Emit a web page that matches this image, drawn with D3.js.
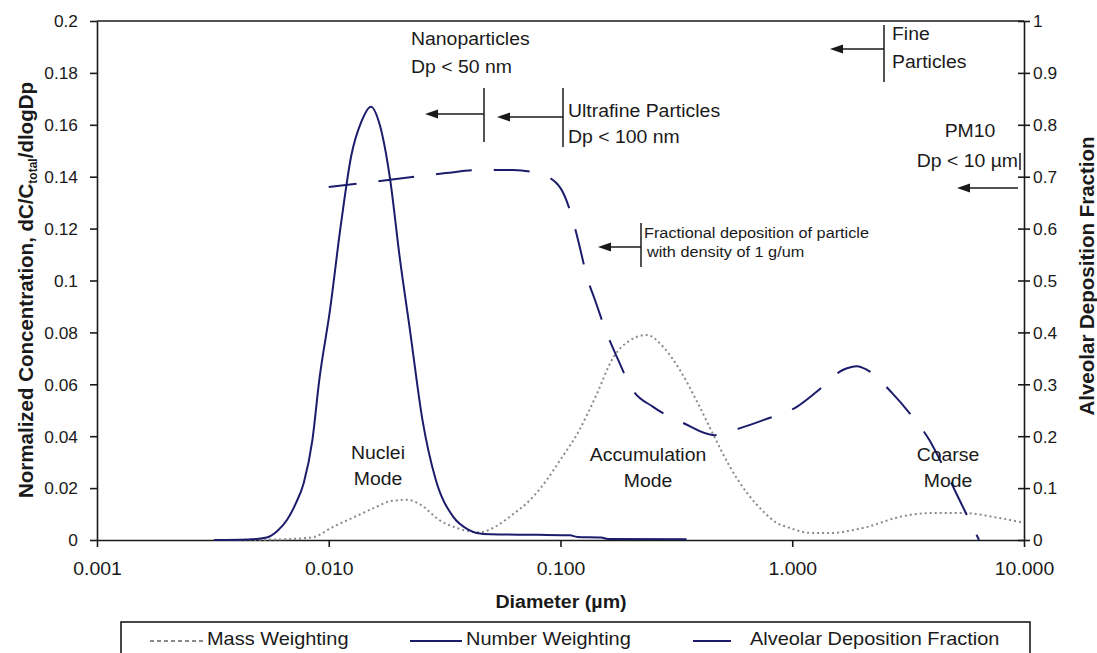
<!DOCTYPE html>
<html>
<head>
<meta charset="utf-8">
<script src="https://cdn.jsdelivr.net/npm/d3@7"></script>
<style>
    body { margin: 0; background: #fff; }
    svg { display: block; font-family: "Liberation Sans", Arial, sans-serif; }
</style>
</head>
<body>
<script>
//Number weighting, diameter in um and normalized concentration
var numberDiam = [0.0032, 0.0045, 0.0054, 0.006, 0.0066, 0.0072, 0.0078, 0.0085, 0.0091, 0.0101, 0.0113, 0.0125, 0.0138, 0.0152, 0.0166, 0.0184, 0.0203, 0.0224, 0.0254, 0.029, 0.0344, 0.04, 0.0435, 0.05, 0.08, 0.11, 0.118, 0.15, 0.16, 0.35];
var numberConc = [0, 0.0002, 0.001, 0.0035, 0.0077, 0.014, 0.022, 0.0385, 0.0616, 0.088, 0.122, 0.148, 0.161, 0.167, 0.16, 0.139, 0.108, 0.081, 0.046, 0.023, 0.009, 0.004, 0.0027, 0.0022, 0.002, 0.0018, 0.0012, 0.001, 0.0004, 0.0003];

//Mass weighting
var massDiam = [0.0032, 0.006, 0.0085, 0.0104, 0.013, 0.0158, 0.0185, 0.0218, 0.025, 0.03, 0.036, 0.045, 0.052, 0.0625, 0.075, 0.087, 0.1, 0.12, 0.143, 0.168, 0.2, 0.236, 0.28, 0.33, 0.39, 0.46, 0.54, 0.64, 0.75, 0.86, 0.95, 1.22, 1.5, 1.8, 2.1, 2.9, 4.0, 5.4, 7.8, 10];
var massConc = [0, 0.0002, 0.001, 0.005, 0.009, 0.0125, 0.015, 0.0155, 0.0135, 0.0077, 0.0045, 0.003, 0.005, 0.01, 0.016, 0.023, 0.031, 0.042, 0.056, 0.07, 0.077, 0.079, 0.074, 0.065, 0.053, 0.04, 0.028, 0.018, 0.011, 0.0065, 0.005, 0.0027, 0.0027, 0.0037, 0.005, 0.0089, 0.0104, 0.0104, 0.0085, 0.0066];

//Alveolar deposition fraction (right axis)
var alveolarDiam = [0.01, 0.0184, 0.032, 0.045, 0.0625, 0.084, 0.1, 0.113, 0.121, 0.13, 0.141, 0.158, 0.175, 0.205, 0.25, 0.34, 0.46, 0.6, 0.75, 1.05, 1.27, 1.66, 1.9, 2.1, 2.7, 3.2, 3.9, 4.5, 5.1, 6.4];
var alveolarFrac = [0.68, 0.694, 0.707, 0.713, 0.713, 0.703, 0.678, 0.617, 0.565, 0.507, 0.462, 0.399, 0.353, 0.289, 0.257, 0.225, 0.202, 0.216, 0.231, 0.257, 0.285, 0.328, 0.335, 0.328, 0.283, 0.245, 0.193, 0.14, 0.09, 0];

//Ticks and labels
var xTicks = [0.001, 0.01, 0.1, 1, 10];
var xTickLabels = ["0.001", "0.010", "0.100", "1.000", "10.000"];
var leftTicks = [0, 0.02, 0.04, 0.06, 0.08, 0.1, 0.12, 0.14, 0.16, 0.18, 0.2];
var leftTickLabels = ["0", "0.02", "0.04", "0.06", "0.08", "0.1", "0.12", "0.14", "0.16", "0.18", "0.2"];
var rightTicks = [0, 0.1, 0.2, 0.3, 0.4, 0.5, 0.6, 0.7, 0.8, 0.9, 1];
var rightTickLabels = ["0", "0.1", "0.2", "0.3", "0.4", "0.5", "0.6", "0.7", "0.8", "0.9", "1"];
var legendLabels = ["Mass Weighting", "Number Weighting", "Alveolar Deposition Fraction"];

var width = 1097, height = 653;
var plot = { left: 97, right: 1024, top: 21, bottom: 540 };
var navy = "#1c1c6c", grey = "#8a8a8a", ink = "#1a1a1a";
var SX = 1.05; //text in the picture is slightly wide

var svg = d3.select("body").append("svg")
    .attr("width", width)
    .attr("height", height);

svg.append("rect").attr("width", width).attr("height", height).attr("fill", "#fff");

//Scales
var x = d3.scaleLog().domain([0.001, 10]).range([plot.left, plot.right]);
var yL = d3.scaleLinear().domain([0, 0.2]).range([plot.bottom, plot.top]);
var yR = d3.scaleLinear().domain([0, 1]).range([plot.bottom, plot.top]);

//Helper for horizontal text
function addText(g, tx, ty, str, size, anchor, bold) {
    return g.append("text")
        .attr("transform", "translate(" + tx + "," + ty + ") scale(" + SX + ",1)")
        .attr("text-anchor", anchor || "start")
        .attr("font-size", size)
        .attr("font-weight", bold ? "bold" : "normal")
        .attr("fill", ink)
        .text(str);
}

//Left axis
var gLeft = svg.append("g")
    .attr("transform", "translate(" + plot.left + ",0)")
    .call(d3.axisLeft(yL).tickValues(leftTicks).tickFormat((d, i) => leftTickLabels[i]).tickSize(7).tickSizeOuter(0));
gLeft.selectAll("text")
    .attr("x", null).attr("dy", null)
    .attr("transform", "translate(-19,5.8) scale(" + SX + ",1)")
    .attr("font-size", 16.5).attr("fill", ink);

//Bottom axis
var gBottom = svg.append("g")
    .attr("transform", "translate(0," + plot.bottom + ")")
    .call(d3.axisBottom(x).tickValues(xTicks).tickFormat((d, i) => xTickLabels[i]).tickSize(7).tickSizeOuter(0));
gBottom.selectAll("text")
    .attr("y", null).attr("dy", null)
    .attr("transform", "translate(0,35) scale(" + SX + ",1)")
    .attr("font-size", 18.5).attr("fill", ink);

//Right axis, ticks cross the axis line
var gRight = svg.append("g")
    .attr("transform", "translate(" + plot.right + ",0)")
    .call(d3.axisRight(yR).tickValues(rightTicks).tickFormat((d, i) => rightTickLabels[i]).tickSize(6).tickSizeOuter(0));
gRight.selectAll(".tick line").attr("x1", -6);
gRight.selectAll("text")
    .attr("x", null).attr("dy", null)
    .attr("transform", "translate(9,5.8) scale(" + SX + ",1)")
    .attr("font-size", 16.5).attr("fill", ink);

svg.selectAll(".domain, .tick line").attr("stroke", ink).attr("stroke-width", 1.6);
svg.selectAll(".tick text").attr("font-family", null);

//Top frame line
svg.append("line")
    .attr("x1", plot.left).attr("x2", plot.right)
    .attr("y1", plot.top).attr("y2", plot.top)
    .attr("stroke", ink).attr("stroke-width", 1.6);

//Series
var lineL = d3.line().x(d => x(d[0])).y(d => yL(d[1])).curve(d3.curveMonotoneX);
var lineR = d3.line().x(d => x(d[0])).y(d => yR(d[1])).curve(d3.curveMonotoneX);

svg.append("path")
    .datum(d3.zip(massDiam, massConc))
    .attr("d", lineL)
    .attr("fill", "none")
    .attr("stroke", grey)
    .attr("stroke-width", 2)
    .attr("stroke-dasharray", "2,3");

svg.append("path")
    .datum(d3.zip(numberDiam, numberConc))
    .attr("d", lineL)
    .attr("fill", "none")
    .attr("stroke", navy)
    .attr("stroke-width", 2);

svg.append("path")
    .datum(d3.zip(alveolarDiam, alveolarFrac))
    .attr("d", lineR)
    .attr("fill", "none")
    .attr("stroke", navy)
    .attr("stroke-width", 2)
    .attr("stroke-dasharray", "36,22")
    .attr("stroke-dashoffset", 8);

//Annotations
var notes = svg.append("g");

function bar(xp, y1, y2) {
    notes.append("line")
        .attr("x1", xp).attr("x2", xp).attr("y1", y1).attr("y2", y2)
        .attr("stroke", ink).attr("stroke-width", 1.5);
}

function arrow(x1, x2, yp) {
    notes.append("line")
        .attr("x1", x1).attr("x2", x2 + 10).attr("y1", yp).attr("y2", yp)
        .attr("stroke", ink).attr("stroke-width", 1.5);
    notes.append("path")
        .attr("d", "M" + x2 + "," + yp + "L" + (x2 + 13) + "," + (yp - 4.5) + "L" + (x2 + 13) + "," + (yp + 4.5) + "Z")
        .attr("fill", ink);
}

addText(notes, 411, 45, "Nanoparticles", 18.5);
addText(notes, 411, 73, "Dp < 50 nm", 18.5);
bar(484, 88, 142);
arrow(484, 425, 114);

addText(notes, 568, 117, "Ultrafine Particles", 18.5);
addText(notes, 568, 143, "Dp < 100 nm", 18.5);
bar(563, 88, 147);
arrow(563, 497, 117);

addText(notes, 644, 238, "Fractional deposition of particle", 15.5);
addText(notes, 647, 257, "with density of 1 g/um", 15.5);
bar(641, 223, 267);
arrow(641, 598, 247);

addText(notes, 892, 40, "Fine", 18.5);
addText(notes, 892, 68, "Particles", 18.5);
bar(884, 25, 82);
arrow(884, 830, 49);

addText(notes, 970, 137, "PM10", 18.5, "middle");
addText(notes, 1018, 167, "Dp < 10 \u00b5m", 18.5, "end");
bar(1020, 153, 170);
arrow(1018, 957, 188);

addText(notes, 378, 459, "Nuclei", 18.5, "middle");
addText(notes, 378, 485, "Mode", 18.5, "middle");
addText(notes, 648, 461, "Accumulation", 18.5, "middle");
addText(notes, 648, 487, "Mode", 18.5, "middle");
addText(notes, 948, 461, "Coarse", 18.5, "middle");
addText(notes, 948, 487, "Mode", 18.5, "middle");

//Axis titles
addText(svg, 561, 608, "Diameter (\u00b5m)", 18.7, "middle", true);

var leftTitle = svg.append("text")
    .attr("transform", "translate(33,290) rotate(-90)")
    .attr("text-anchor", "middle")
    .attr("font-size", 20.5)
    .attr("font-weight", "bold")
    .attr("fill", ink);
leftTitle.append("tspan").text("Normalized Concentration, dC/C");
leftTitle.append("tspan").attr("font-size", 12).attr("dy", 4).text("total");
leftTitle.append("tspan").attr("dy", -4).text("/dlogDp");

svg.append("text")
    .attr("transform", "translate(1094,276) rotate(-90)")
    .attr("text-anchor", "middle")
    .attr("font-size", 20.5)
    .attr("font-weight", "bold")
    .attr("fill", ink)
    .text("Alveolar Deposition Fraction");

//Legend
var legend = svg.append("g");
legend.append("rect")
    .attr("x", 121).attr("y", 622).attr("width", 909).attr("height", 60)
    .attr("fill", "#fff").attr("stroke", ink).attr("stroke-width", 1.6);

var legendItems = [
    { x1: 150, x2: 203, tx: 207, stroke: grey, dash: "4,3" },
    { x1: 410, x2: 462, tx: 466, stroke: navy, dash: null },
    { x1: 693, x2: 731, tx: 750, stroke: navy, dash: null }
];
legendItems.forEach(function(item, i) {
    legend.append("line")
        .attr("x1", item.x1).attr("x2", item.x2).attr("y1", 641).attr("y2", 641)
        .attr("stroke", item.stroke).attr("stroke-width", 2)
        .attr("stroke-dasharray", item.dash);
    addText(legend, item.tx, 645, legendLabels[i], 19);
});
</script>
</body>
</html>
